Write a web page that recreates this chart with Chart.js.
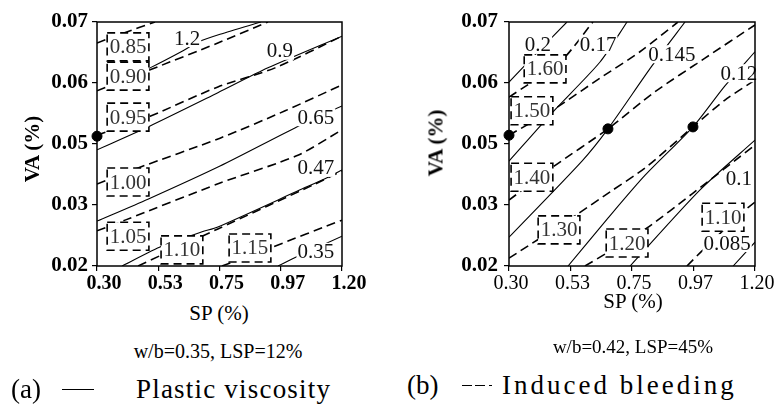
<!DOCTYPE html>
<html>
<head>
<meta charset="utf-8">
<script src="https://cdn.jsdelivr.net/npm/chart.js@4"></script>
<style>
  body { margin: 0; background: #fff; width: 776px; height: 407px; position: relative; overflow: hidden; font-family: "Liberation Serif", "Times New Roman", serif; color: #000; }
  .wrap { position: absolute; top: 0; height: 300px; }
  .txt { position: absolute; white-space: nowrap; line-height: 1; }
  .rot { transform: translate(-50%, -50%) rotate(-90deg); font-weight: bold; font-size: 21px; }
  .ctr { transform: translate(-50%, -50%); }
  .seg { position: absolute; border-top: 1.6px solid #000; }
</style>
</head>
<body>
<div class="wrap" style="left:0;width:380px"><canvas id="chartA"></canvas></div>
<div class="wrap" style="left:390px;width:386px"><canvas id="chartB"></canvas></div>

<div class="txt rot" style="left:32px;top:149px">VA (%)</div>
<div class="txt rot" style="left:436px;top:143px">VA (%)</div>
<div class="txt ctr" style="left:219px;top:313px;font-size:21px">SP (%)</div>
<div class="txt ctr" style="left:633px;top:301px;font-size:21px">SP (%)</div>
<div class="txt ctr" style="left:218px;top:351px;font-size:20px">w/b=0.35, LSP=12%</div>
<div class="txt ctr" style="left:633px;top:346px;font-size:19px">w/b=0.42, LSP=45%</div>

<div class="txt" style="left:11px;top:376px;font-size:27px">(a)</div>
<div class="seg" style="left:62px;top:389px;width:32px"></div>
<div class="txt" style="left:136px;top:376px;font-size:27px;letter-spacing:1.2px">Plastic viscosity</div>
<div class="txt" style="left:407px;top:372px;font-size:27px">(b)</div>
<div class="seg" style="left:462px;top:385px;width:10px"></div>
<div class="seg" style="left:475px;top:385px;width:10px"></div>
<div class="seg" style="left:489px;top:385px;width:3px"></div>
<div class="txt" style="left:502px;top:372px;font-size:27px;letter-spacing:3px">Induced bleeding</div>

<script>
/* Achsen (beide Diagramme gleich) */
const xTickVals = [0.30, 0.525, 0.75, 0.975, 1.20];
const xTickLabels = ['0.30', '0.53', '0.75', '0.97', '1.20'];
const yTickVals = [0.02, 0.0325, 0.045, 0.0575, 0.07];
const yTickLabels = ['0.02', '0.03', '0.05', '0.06', '0.07'];

/* (a) w/b=0.35, LSP=12% : Plastic viscosity (durchgezogen) */
const pvA_12  = [[0.458,0.0598],[0.495,0.0606],[0.616,0.0641],[0.671,0.0659],[0.752,0.0675],[0.902,0.0700]];
const pvA_09  = [[0.300,0.0438],[0.495,0.0487],[0.744,0.0555],[0.928,0.0606],[1.200,0.0671]];
const pvA_065 = [[0.300,0.0292],[0.487,0.0337],[0.752,0.0405],[1.027,0.0483],[1.200,0.0528]];
const pvA_047 = [[0.392,0.0200],[0.539,0.0241],[0.686,0.0270],[0.744,0.0280],[1.046,0.0356],[1.149,0.0382],[1.200,0.0397]];
const pvA_035 = [[0.965,0.0200],[1.038,0.0220],[1.200,0.0261]];
const pvA_text = ['1.2', '0.9', '0.65', '0.47', '0.35'];
const pvA_pos  = [[0.631,0.0667],[0.972,0.0641],[1.104,0.0505],[1.104,0.0401],[1.104,0.0229]];

/* (a) Induced bleeding (gestrichelt) */
const ibA_085 = [[0.300,0.0657],[0.396,0.0677],[0.513,0.0700]];
const ibA_090 = [[0.300,0.0559],[0.495,0.0602],[0.744,0.0657],[0.928,0.0700]];
const ibA_095 = [[0.300,0.0468],[0.495,0.0507],[0.744,0.0567],[0.954,0.0606],[1.200,0.0671]];
const ibA_100 = [[0.300,0.0368],[0.451,0.0401],[0.752,0.0462],[0.991,0.0518],[1.200,0.0571]];
const ibA_105 = [[0.300,0.0272],[0.403,0.0294],[0.752,0.0370],[1.038,0.0427],[1.200,0.0479]];
const ibA_110 = [[0.451,0.0200],[0.539,0.0223],[0.686,0.0261],[0.744,0.0276],[1.101,0.0368],[1.200,0.0395]];
const ibA_115 = [[0.759,0.0200],[0.936,0.0237],[1.200,0.0294]];
const ibA_text = ['0.85', '0.90', '0.95', '1.00', '1.05', '1.10', '1.15'];
const ibA_pos  = [[0.414,0.0649],[0.414,0.0589],[0.414,0.0505],[0.414,0.0372],[0.414,0.0261],[0.612,0.0233],[0.862,0.0237]];
const dotsA = [[0.300,0.0466]];

/* (b) w/b=0.42, LSP=45% : Plastic viscosity */
const pvB_02   = [[0.300,0.0577],[0.406,0.0639],[0.512,0.0700]];
const pvB_017  = [[0.300,0.0415],[0.461,0.0516],[0.633,0.0618],[0.732,0.0700]];
const pvB_0145 = [[0.300,0.0259],[0.567,0.0415],[0.662,0.0481],[0.823,0.0610],[0.944,0.0700]];
const pvB_012  = [[0.516,0.0200],[0.662,0.0298],[0.798,0.0386],[0.973,0.0485],[1.090,0.0569],[1.200,0.0639]];
const pvB_01   = [[0.743,0.0200],[0.999,0.0356],[1.200,0.0458]];
const pvB_0085 = [[1.120,0.0200],[1.200,0.0249]];
const pvB_text = ['0.2', '0.17', '0.145', '0.12', '0.1', '0.085'];
const pvB_pos  = [[0.406,0.0653],[0.626,0.0653],[0.896,0.0634],[1.141,0.0595],[1.141,0.0380],[1.098,0.0247]];

/* (b) Induced bleeding */
const ibB_160 = [[0.300,0.0546],[0.487,0.0618],[0.607,0.0700]];
const ibB_150 = [[0.300,0.0468],[0.461,0.0520],[0.633,0.0585],[0.779,0.0639],[0.918,0.0700]];
const ibB_140 = [[0.300,0.0335],[0.461,0.0403],[0.662,0.0481],[0.834,0.0557],[1.017,0.0626],[1.200,0.0694]];
const ibB_130 = [[0.300,0.0216],[0.552,0.0307],[0.670,0.0352],[0.798,0.0401],[0.973,0.0485],[1.090,0.0540],[1.200,0.0581]];
const ibB_120 = [[0.578,0.0200],[0.659,0.0227],[0.805,0.0278],[0.970,0.0348],[1.200,0.0448]];
const ibB_110 = [[0.951,0.0200],[1.010,0.0233],[1.156,0.0311],[1.200,0.0331]];
const ibB_text = ['1.60', '1.50', '1.40', '1.30', '1.20', '1.10'];
const ibB_pos  = [[0.432,0.0604],[0.384,0.0518],[0.384,0.0382],[0.483,0.0274],[0.732,0.0247],[1.083,0.0300]];
const dotsB = [[0.300,0.0468],[0.662,0.0481],[0.973,0.0485]];

const FONT = '"Liberation Serif", "Times New Roman", serif';

function toPts(arr) {
    return arr.map(p => ({ x: p[0], y: p[1] }));
}

/* Rahmen um die Zeichenfläche */
const framePlugin = {
    id: 'frame',
    afterDraw(chart) {
        const a = chart.chartArea, ctx = chart.ctx;
        ctx.save();
        ctx.strokeStyle = '#000';
        ctx.lineWidth = 1.5;
        ctx.strokeRect(a.left, a.top, a.right - a.left, a.bottom - a.top);
        ctx.restore();
    }
};

/* Beschriftungen der Konturlinien */
function labelPlugin(cfg) {
    return {
        id: 'contourLabels',
        afterDatasetsDraw(chart) {
            const ctx = chart.ctx, xs = chart.scales.x, ys = chart.scales.y;
            ctx.save();
            ctx.font = '21px ' + FONT;
            ctx.textAlign = 'center';
            ctx.textBaseline = 'middle';
            cfg.ibText.forEach((t, i) => {
                const px = xs.getPixelForValue(cfg.ibPos[i][0]);
                const py = ys.getPixelForValue(cfg.ibPos[i][1]);
                const w = ctx.measureText(t).width + 5, h = 28;
                ctx.fillStyle = '#fff';
                ctx.fillRect(px - w / 2, py - h / 2, w, h);
                ctx.strokeStyle = '#000';
                ctx.lineWidth = 1.6;
                ctx.setLineDash([8, 5]);
                ctx.strokeRect(px - w / 2, py - h / 2, w, h);
                ctx.setLineDash([]);
                ctx.fillStyle = '#333';
                ctx.fillText(t, px, py + 1);
            });
            cfg.pvText.forEach((t, i) => {
                const px = xs.getPixelForValue(cfg.pvPos[i][0]);
                const py = ys.getPixelForValue(cfg.pvPos[i][1]);
                const w = ctx.measureText(t).width + 2;
                ctx.fillStyle = '#fff';
                ctx.fillRect(px - w / 2, py - 9, w, 18);
                ctx.fillStyle = '#111';
                ctx.fillText(t, px, py + 1);
            });
            ctx.restore();
        }
    };
}

function buildChart(id, cfg) {
    const datasets = [];
    cfg.pv.forEach(line => datasets.push({
        data: toPts(line), showLine: true, borderColor: '#000', borderWidth: 1.1,
        pointRadius: 0, tension: 0.25
    }));
    cfg.ib.forEach(line => datasets.push({
        data: toPts(line), showLine: true, borderColor: '#000', borderWidth: 1.6,
        borderDash: [9, 5], pointRadius: 0, tension: 0.25
    }));
    datasets.push({
        data: toPts(cfg.dots), showLine: false, pointRadius: 5,
        backgroundColor: '#000', borderColor: '#000', clip: false
    });

    return new Chart(document.getElementById(id), {
        type: 'scatter',
        data: { datasets: datasets },
        options: {
            responsive: true,
            maintainAspectRatio: false,
            animation: false,
            layout: { padding: { top: 22, right: cfg.padRight, left: 0, bottom: 0 } },
            plugins: { legend: { display: false }, tooltip: { enabled: false } },
            scales: {
                x: {
                    type: 'linear', min: 0.3, max: 1.2,
                    afterBuildTicks: s => { s.ticks = xTickVals.map(v => ({ value: v })); },
                    afterFit: s => { s.height = 34; },
                    ticks: {
                        callback: (v, i) => xTickLabels[i],
                        font: { family: FONT, size: 20, weight: cfg.xBold ? 'bold' : 'normal' },
                        color: '#000', padding: 1, labelOffset: cfg.xOffset,
                        maxRotation: 0, autoSkip: false
                    },
                    grid: { drawOnChartArea: false, color: '#000', tickLength: 5, lineWidth: 1.2 },
                    border: { display: false }
                },
                y: {
                    type: 'linear', min: 0.02, max: 0.07,
                    afterBuildTicks: s => { s.ticks = yTickVals.map(v => ({ value: v })); },
                    afterFit: s => { s.width = cfg.yWidth; },
                    ticks: {
                        callback: (v, i) => yTickLabels[i],
                        font: { family: FONT, size: 21, weight: 'bold' },
                        color: '#000', padding: cfg.yPad, autoSkip: false
                    },
                    grid: { drawOnChartArea: false, color: '#000', tickLength: 5, lineWidth: 1.2 },
                    border: { display: false }
                }
            }
        },
        plugins: [framePlugin, labelPlugin(cfg)]
    });
}

buildChart('chartA', {
    pv: [pvA_12, pvA_09, pvA_065, pvA_047, pvA_035],
    ib: [ibA_085, ibA_090, ibA_095, ibA_100, ibA_105, ibA_110, ibA_115],
    pvText: pvA_text, pvPos: pvA_pos, ibText: ibA_text, ibPos: ibA_pos,
    dots: dotsA, yWidth: 97, padRight: 38, yPad: 4, xOffset: 7, xBold: true
});

buildChart('chartB', {
    pv: [pvB_02, pvB_017, pvB_0145, pvB_012, pvB_01, pvB_0085],
    ib: [ibB_160, ibB_150, ibB_140, ibB_130, ibB_120, ibB_110],
    pvText: pvB_text, pvPos: pvB_pos, ibText: ibB_text, ibPos: ibB_pos,
    dots: dotsB, yWidth: 119, padRight: 21, yPad: 6, xOffset: 2, xBold: false
});
</script>
</body>
</html>
